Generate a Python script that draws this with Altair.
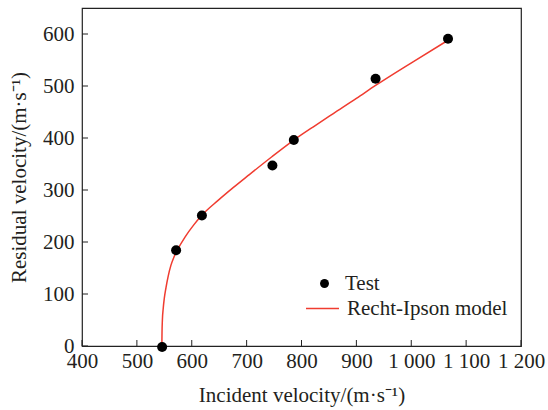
import altair as alt
import pandas as pd

# Test points
test_vi = [546, 571.5, 618.5, 747, 786, 935, 1067]
test_vr = [-2, 184, 251, 347, 396, 514, 591]

# Recht-Ipson model curve
model_vi = [545.5, 545.8, 546.5, 548, 550, 553, 557, 562, 568, 575, 588, 603, 618,
            648, 676, 703, 746, 786, 825, 858, 900, 935, 1004, 1067]
model_vr = [0, 25, 50, 72, 92, 112, 134, 155, 172, 187, 210, 232, 251,
            280, 305, 328, 364, 396, 424, 447, 476, 501, 547, 588]

x_ticks = [400, 500, 600, 700, 800, 900, 1000, 1100, 1200]
y_ticks = [0, 100, 200, 300, 400, 500, 600]

FONT = "Liberation Serif"
FS = 21
TXT = "#231f20"
RED = "#f03c30"
W, H = 439, 338

pts = pd.DataFrame({"vi": test_vi, "vr": test_vr, "series": "Test"})
mdl = pd.DataFrame({"vi": model_vi, "vr": model_vr, "series": "Recht-Ipson model"})
xt = pd.DataFrame({"v": x_ticks})
yt = pd.DataFrame({"v": y_ticks})

xscale = alt.Scale(domain=[400, 1200], nice=False, zero=False)
yscale = alt.Scale(domain=[0, 650], nice=False, zero=False)

xaxis = alt.Axis(values=x_ticks, ticks=False, grid=False, domain=False,
                 labelFont=FONT, labelFontSize=FS, labelColor=TXT, labelPadding=4,
                 labelExpr="replace(format(datum.value, ','), ',', ' ')",
                 title="Incident velocity/(m·s⁻¹)", titleFont=FONT, titleFontSize=FS,
                 titleFontWeight="normal", titleColor=TXT, titleBaseline="alphabetic",
                 titleY=55, labelFlush=False, labelOverlap=False)
yaxis = alt.Axis(values=y_ticks, ticks=False, grid=False, domain=False,
                 labelFont=FONT, labelFontSize=FS, labelColor=TXT, labelPadding=8,
                 title="Residual velocity/(m·s⁻¹)", titleFont=FONT, titleFontSize=FS,
                 titleFontWeight="normal", titleColor=TXT, titleBaseline="alphabetic",
                 titleX=-57, titleY=H / 2, titleAlign="center", titleAngle=270,
                 labelFlush=False, labelOverlap=False)

line = alt.Chart(mdl).mark_line(strokeWidth=1.5, interpolate="monotone").encode(
    x=alt.X("vi:Q", scale=xscale, axis=xaxis),
    y=alt.Y("vr:Q", scale=yscale, axis=yaxis),
    stroke=alt.Stroke("series:N",
                      scale=alt.Scale(domain=["Recht-Ipson model"], range=[RED]),
                      legend=alt.Legend(orient="none", legendX=223, legendY=283,
                                        title=None, symbolType="stroke",
                                        symbolSize=1089, symbolStrokeWidth=1.5,
                                        labelFont=FONT, labelFontSize=FS,
                                        labelLimit=400,
                                        labelColor=TXT, labelOffset=7, padding=0)),
    order=alt.Order("vi:Q"),
)

points = alt.Chart(pts).mark_point(filled=True, size=100, opacity=1, shape="circle").encode(
    x=alt.X("vi:Q", scale=xscale),
    y=alt.Y("vr:Q", scale=yscale),
    fill=alt.Fill("series:N",
                  scale=alt.Scale(domain=["Test"], range=["black"]),
                  legend=alt.Legend(orient="none", legendX=232, legendY=265,
                                    title=None, symbolType="circle",
                                    symbolSize=80, symbolStrokeWidth=0,
                                    labelFont=FONT, labelFontSize=FS,
                                    labelLimit=400,
                                    labelColor=TXT, labelOffset=10, padding=0)),
)

xtick = alt.Chart(xt).mark_rule(color="#222", strokeWidth=1).encode(
    x=alt.X("v:Q", scale=xscale),
    y=alt.value(H), y2=alt.value(H - 6),
)
ytick = alt.Chart(yt).mark_rule(color="#222", strokeWidth=1).encode(
    y=alt.Y("v:Q", scale=yscale),
    x=alt.value(0), x2=alt.value(6),
)

chart = alt.layer(xtick, ytick, line, points).properties(
    width=W, height=H, autosize="none",
    padding={"left": 82, "top": 8, "right": 27, "bottom": 64},
).configure(background="white", font=FONT).configure_view(
    stroke="#222", strokeWidth=1.2
).configure_axis(labelFont=FONT, titleFont=FONT).configure_legend(labelFont=FONT)

chart.save("out.html", embed_options={"renderer": "svg", "actions": False})
